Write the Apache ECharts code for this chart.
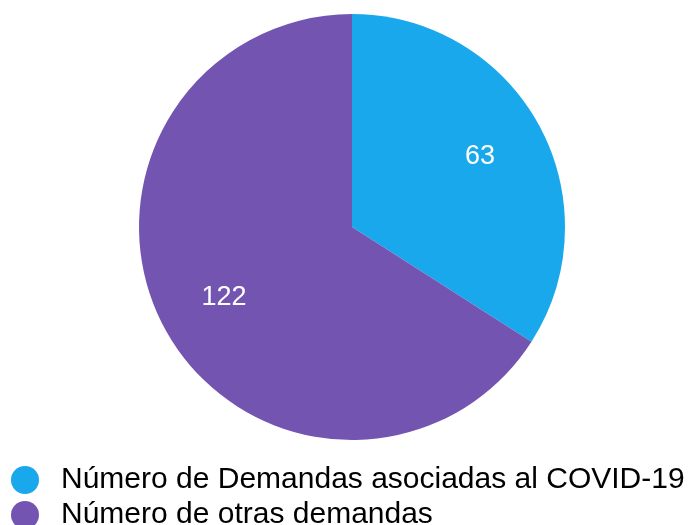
<!DOCTYPE html>
<html>
<head>
<meta charset="utf-8">
<script src="https://cdn.jsdelivr.net/npm/echarts@6/dist/echarts.min.js"></script>
<style>
  html, body { margin: 0; padding: 0; background: #fff; }
  #main { width: 693px; height: 525px; }
</style>
</head>
<body>
<div id="main"></div>
<script>
var categories = ['Número de Demandas asociadas al COVID-19', 'Número de otras demandas'];
var values = [63, 122];
var colors = ['#19a8ec', '#7355b1'];

var chartDom = document.getElementById('main');
var myChart = echarts.init(chartDom);

var data = categories.map(function (name, i) {
  return { name: name, value: values[i], itemStyle: { color: colors[i] } };
});

// one legend per row so the vertical list never wraps into columns
var legendTops = [465, 500];
var legends = categories.map(function (name, i) {
  return {
    orient: 'horizontal',
    left: 11,
    top: legendTops[i],
    padding: 0,
    icon: 'circle',
    itemWidth: 28,
    itemHeight: 28,
    textStyle: {
      fontFamily: 'Liberation Sans, Arial, sans-serif',
      fontSize: 30,
      color: '#000',
      padding: [0, 0, 0, 17]
    },
    data: [name]
  };
});

var option = {
  animation: false,
  legend: legends,
  series: [
    {
      // filled pie
      type: 'pie',
      center: [352, 227],
      radius: [0, 213],
      startAngle: 90,
      clockwise: true,
      label: { show: false },
      labelLine: { show: false },
      itemStyle: { borderWidth: 0 },
      data: data
    },
    {
      // label ring, places labels at ~2/3 of radius
      type: 'pie',
      center: [352, 227],
      radius: [73, 213],
      startAngle: 90,
      clockwise: true,
      silent: true,
      legendHoverLink: false,
      itemStyle: { color: 'rgba(0,0,0,0)', borderWidth: 0 },
      label: {
        show: true,
        position: 'inside',
        formatter: '{c}',
        color: '#fff',
        fontSize: 27,
        fontFamily: 'Liberation Sans, Arial, sans-serif'
      },
      labelLine: { show: false },
      data: values.map(function (v, i) { return { name: categories[i] + ' ', value: v }; })
    }
  ]
};

option && myChart.setOption(option);
</script>
</body>
</html>
